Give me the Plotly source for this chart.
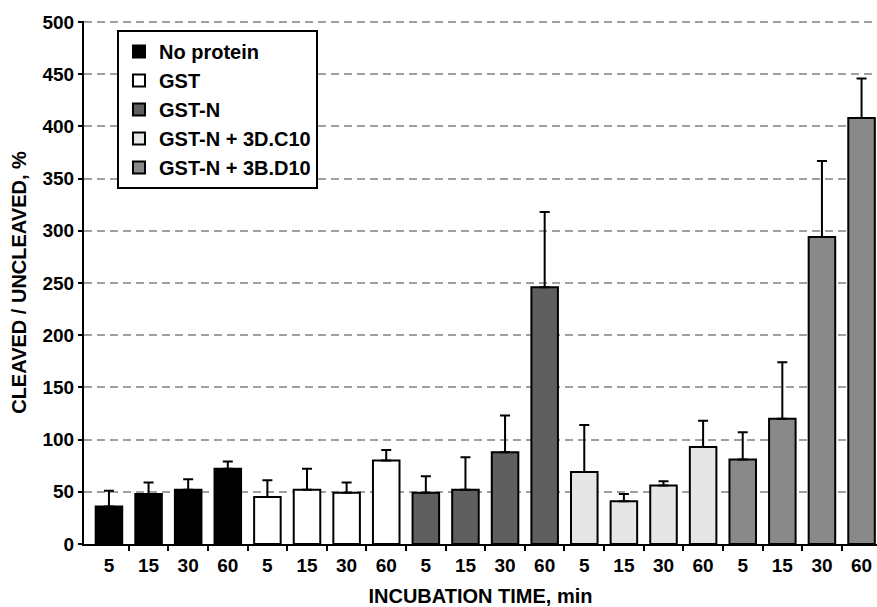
import plotly.graph_objects as go

# ---- data ----
time_labels = ["5", "15", "30", "60"]
groups = ["No protein", "GST", "GST-N", "GST-N + 3D.C10", "GST-N + 3B.D10"]
no_protein = [36, 48, 52, 72]
no_protein_err = [15, 11, 10, 7]
gst = [45, 52, 49, 80]
gst_err = [16, 20, 10, 10]
gst_n = [49, 52, 88, 246]
gst_n_err = [16, 31, 35, 72]
gst_n_c10 = [69, 41, 56, 93]
gst_n_c10_err = [45, 7, 4, 25]
gst_n_d10 = [81, 120, 294, 408]
gst_n_d10_err = [26, 54, 73, 38]

values = [no_protein, gst, gst_n, gst_n_c10, gst_n_d10]
errors = [no_protein_err, gst_err, gst_n_err, gst_n_c10_err, gst_n_d10_err]
colors = ["#000000", "#ffffff", "#5f5f5f", "#e6e6e6", "#898989"]

FONT = "Arial, Liberation Sans, sans-serif"
n = len(time_labels)

fig = go.Figure()
for gi, (name, vals, errs, col) in enumerate(zip(groups, values, errors, colors)):
    xs = [gi * n + j for j in range(n)]
    fig.add_trace(go.Bar(
        x=xs, y=vals, name=name, width=0.67,
        marker=dict(color=col, line=dict(color="black", width=2)),
        error_y=dict(type="data", array=errs, arrayminus=[0] * n, symmetric=False,
                     color="black", thickness=2, width=5),
    ))

all_x = list(range(len(groups) * n))
all_labels = time_labels * len(groups)

fig.update_layout(
    width=877, height=607, autosize=False,
    margin=dict(l=84, r=0, t=21, b=63),
    plot_bgcolor="white", paper_bgcolor="white",
    barmode="overlay",
    font=dict(family=FONT, color="black"),
    legend=dict(
        x=0.0416, y=0.983, xanchor="left", yanchor="top",
        bgcolor="white", bordercolor="black", borderwidth=2,
        font=dict(family=FONT, size=20, color="black", weight="bold"),
        traceorder="normal",
    ),
    xaxis=dict(
        range=[-0.63, 19.39], automargin=False,
        tickmode="array", tickvals=all_x, ticktext=all_labels,
        ticks="", showgrid=False, zeroline=False,
        showline=True, linecolor="black", linewidth=2,
        ticklabelstandoff=3,
        tickfont=dict(family=FONT, size=19, color="black", weight="bold"),
        minor=dict(tickmode="array", tickvals=[i + 0.5 for i in range(len(all_x) - 1)],
                   ticks="outside", ticklen=5, tickwidth=2, tickcolor="black",
                   showgrid=False),
        title=dict(text="INCUBATION TIME, min", standoff=23,
                   font=dict(family=FONT, size=20, color="black", weight="bold")),
    ),
    yaxis=dict(
        range=[0, 501], tickmode="linear", tick0=0, dtick=50, automargin=False,
        ticks="outside", ticklen=4, tickwidth=2, tickcolor="black",
        showgrid=True, gridcolor="#a0a0a0", gridwidth=2, griddash="8px,5px",
        zeroline=False, showline=True, linecolor="black", linewidth=2,
        tickfont=dict(family=FONT, size=19, color="black", weight="bold"),
        title=dict(text="CLEAVED / UNCLEAVED, %", standoff=10,
                   font=dict(family=FONT, size=20, color="black", weight="bold")),
    ),
)

fig.write_html("out.html", config={"displayModeBar": False},
               post_script="document.body.style.margin='0';")
